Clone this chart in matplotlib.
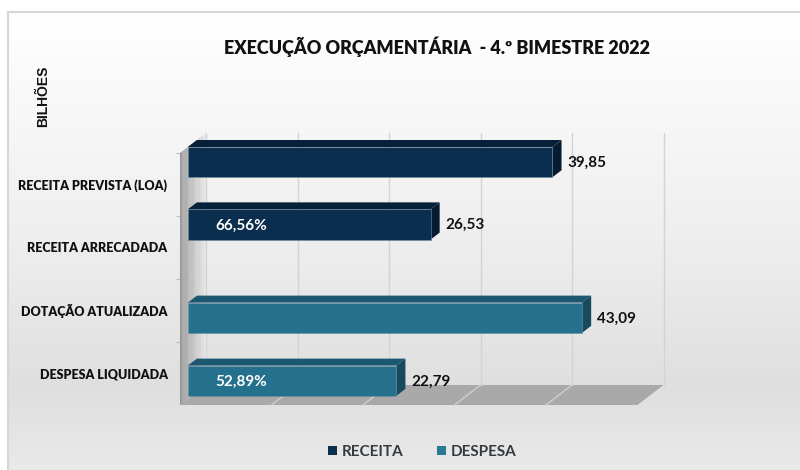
import numpy as np
import matplotlib
matplotlib.use("Agg")
import matplotlib.pyplot as plt
from matplotlib.patches import Polygon, Patch
from matplotlib.transforms import ScaledTranslation, IdentityTransform
from matplotlib.colors import to_rgb

# ====== DATA ======
categories = ["RECEITA PREVISTA (LOA)", "RECEITA ARRECADADA", "DOTAÇÃO ATUALIZADA", "DESPESA LIQUIDADA"]
values = [39.85, 26.53, 43.09, 22.79]
value_labels = ["39,85", "26,53", "43,09", "22,79"]
series = ["RECEITA", "RECEITA", "DESPESA", "DESPESA"]
pct_labels = ["", "66,56%", "", "52,89%"]
legend_names = ["RECEITA", "DESPESA"]
x_ticks = [0, 10, 20, 30, 40, 50]

# ====== STYLE ======
FRONT = {"RECEITA": "#0b2d4e", "DESPESA": "#25708d"}
TOP = {"RECEITA": "#072039", "DESPESA": "#1c586f"}
SIDE = {"RECEITA": "#061b31", "DESPESA": "#184a5d"}
bar_y = [3.76, 2.77, 1.29, 0.29]   # bar centres (category units, front plane)
bar_h = 0.48
cat_y = [3.5, 2.5, 1.5, 0.5]
DX, DY = 26, 20                   # depth vector in pixels
F0, F1 = 0.3, 0.65                # bar front/back depth fraction

fig = plt.figure(figsize=(8, 4.7), dpi=100)
fig.patch.set_facecolor("white")

# background gradient panel
bg = fig.add_axes([8 / 800, 0, 792 / 800, 458 / 470], zorder=0)
stops = [(0.0, "#ffffff"), (0.5, "#eeeeee"), (0.82, "#dfdfdf"), (1.0, "#e9e9e9")]
t = np.linspace(0, 1, 256)
grad = np.zeros((256, 1, 3))
for ch in range(3):
    grad[:, 0, ch] = np.interp(t, [s[0] for s in stops], [to_rgb(s[1])[ch] for s in stops])
bg.imshow(grad, aspect="auto", extent=[0, 1, 0, 1])
bg.set_xticks([])
bg.set_yticks([])
for side in ["right", "bottom"]:
    bg.spines[side].set_visible(False)
for side in ["left", "top"]:
    bg.spines[side].set_color("#d6d6d6")
    bg.spines[side].set_linewidth(1.5)

# main axes = front plane of the 3D box
ax = fig.add_axes([180 / 800, (470 - 405) / 470, 457.5 / 800, 252 / 470], zorder=1)
ax.set_xlim(0, 50)
ax.set_ylim(0, 4)
ax.patch.set_visible(False)
for s in ax.spines.values():
    s.set_visible(False)
ax.set_xticks([])


def px(x, y, f):
    p = ax.transData.transform((x, y))
    return (p[0] + f * DX, p[1] + f * DY)


def poly(pts, color, z, **kw):
    ax.add_patch(Polygon(pts, closed=True, facecolor=color, edgecolor="none",
                         transform=IdentityTransform(), zorder=z, clip_on=False, **kw))


# floor
poly([px(0, 0, 0), px(50, 0, 0), px(50, 0, 1), px(0, 0, 1)], "#a9a9a9", 1)
for v in x_ticks[1:-1]:
    a, b = px(v, 0, 0), px(v, 0, 1)
    ax.plot([a[0], b[0]], [a[1], b[1]], color="#d2d2d2", lw=0.9,
            transform=IdentityTransform(), zorder=1.5, clip_on=False)

# back wall gridlines
for v in x_ticks:
    a, b = px(v, 0, 1), px(v, 4, 1)
    ax.plot([a[0], b[0]], [a[1], b[1]], color="#d3d3d3", lw=1.0,
            transform=IdentityTransform(), zorder=1.2, clip_on=False)

# left wall with gradient
n = 30
c_front, c_back = np.array(to_rgb("#8a8a8a")), np.array(to_rgb("#e6e6e6"))
for i in range(n):
    f_a, f_b = i / n, (i + 1) / n
    col = c_front + (c_back - c_front) * (i / (n - 1)) ** 0.8
    poly([px(0, 0, f_a), px(0, 0, f_b), px(0, 4, f_b), px(0, 4, f_a)], col, 2)

# bars
for y, v, s in zip(bar_y, values, series):
    y0, y1 = y - bar_h / 2, y + bar_h / 2
    poly([px(0, y1, F0), px(v, y1, F0), px(v, y1, F1), px(0, y1, F1)], TOP[s], 3)
    poly([px(v, y0, F0), px(v, y1, F0), px(v, y1, F1), px(v, y0, F1)], SIDE[s], 3)
offset = ScaledTranslation(F0 * DX / 100, F0 * DY / 100, fig.dpi_scale_trans)
for y, v, s in zip(bar_y, values, series):
    ax.barh(y, v, height=bar_h, color=FRONT[s], edgecolor="#6f8fa6", linewidth=0.4,
            transform=ax.transData + offset, zorder=4, clip_on=False)

# value labels
for y, v, lab in zip(bar_y, values, value_labels):
    ax.annotate(lab, (v, y), xytext=(16.2, 3.8), textcoords="offset points",
                ha="left", va="center", fontsize=11, fontweight="bold",
                family="Lato", color="#111111", zorder=5, annotation_clip=False)
for y, lab in zip(bar_y, pct_labels):
    if lab:
        ax.annotate(lab, (0, y), xytext=(25.5, 3.4), textcoords="offset points",
                    ha="left", va="center", fontsize=11, fontweight="bold",
                    family="Lato", color="white", zorder=5, annotation_clip=False)

# category labels
ax.set_yticks(cat_y)
ax.set_yticklabels(categories, fontsize=9, fontweight="heavy", family="Lato", color="#111111")
ax.tick_params(axis="y", which="major", length=0, pad=9)
ax.set_yticks([1, 2, 3, 4], minor=True)
ax.tick_params(axis="y", which="minor", length=3, color="#bdbdbd", width=0.8)

# title and axis label
fig.text(437 / 800, (470 - 47) / 470, "EXECUÇÃO ORÇAMENTÁRIA  - 4.º BIMESTRE 2022",
         ha="center", va="center", fontsize=13, fontweight="heavy", family="Lato", color="#111111")
fig.text(43 / 800, (470 - 96) / 470, "BILHÕES", rotation=90, ha="center", va="center",
         fontsize=10, fontweight="bold", family="Liberation Sans", color="#111111")

# legend
handles = [Patch(facecolor="#0b2d4e"), Patch(facecolor="#2a7a96")]
fig.legend(handles, legend_names, loc="center", bbox_to_anchor=(422 / 800, 18 / 470),
           ncol=2, frameon=False, handlelength=0.6, handleheight=0.6, handletextpad=0.3,
           columnspacing=2.2, prop={"family": "Lato", "size": 11, "weight": "bold"},
           labelcolor="#333a40")

fig.savefig("out.png", dpi=100)
